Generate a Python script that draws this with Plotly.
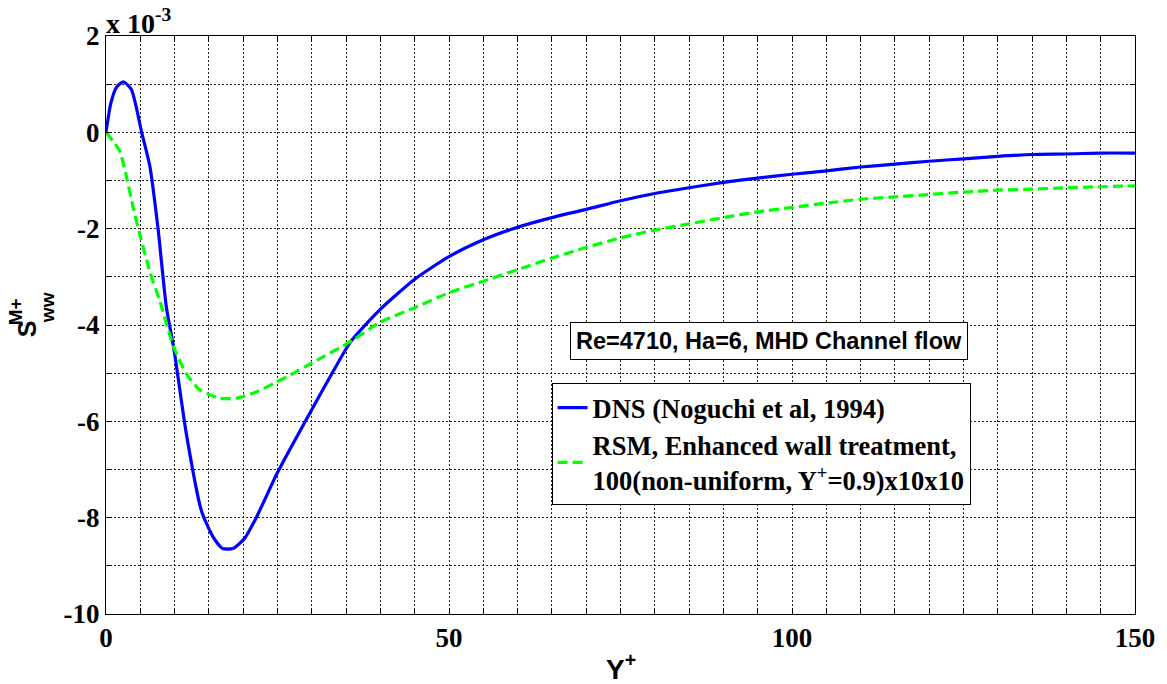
import plotly.graph_objects as go

# ---- data (values in units of 1e-3) ----
dns_x = [0, 0.7, 1.5, 2.5, 3.7, 5.2, 6.4, 7.6, 8.8, 9.9, 11.7, 13.9, 15.6, 17.0, 18.5,
         20.2, 21.9, 24.8, 26.7, 29.2, 33.0, 35.7, 39.8, 45, 50, 55, 60, 65, 70, 75, 80,
         85, 90, 95, 100, 105, 110, 115, 120, 125, 130, 135, 140, 145, 150]
dns_y = [0, 0.60, 0.93, 1.05, 0.89, 0.0, -0.71, -2.02, -3.63, -4.50, -6.25, -7.85, -8.40,
         -8.64, -8.64, -8.43, -8.0, -7.12, -6.61, -5.96, -4.99, -4.34, -3.70, -3.05, -2.58,
         -2.23, -1.97, -1.77, -1.60, -1.42, -1.27, -1.15, -1.04, -0.95, -0.87, -0.80,
         -0.72, -0.66, -0.60, -0.55, -0.50, -0.46, -0.45, -0.43, -0.43]

rsm_x = [0, 1.0, 2.0, 3.0, 4.0, 4.9, 6.4, 7.8, 9.8, 11.7, 13.6, 16.5, 19.0, 21.9, 24.8,
         26.7, 30, 35.7, 40, 45, 50, 55, 60, 65, 70, 75, 80, 85, 90, 95, 100, 105, 110,
         115, 120, 125, 130, 135, 140, 145, 150]
rsm_y = [0, -0.18, -0.39, -0.93, -1.59, -2.10, -2.90, -3.48, -4.43, -5.01, -5.34, -5.52,
         -5.52, -5.39, -5.19, -5.05, -4.79, -4.34, -3.94, -3.64, -3.33, -3.09, -2.85,
         -2.61, -2.39, -2.19, -2.03, -1.90, -1.77, -1.65, -1.56, -1.47, -1.39, -1.34,
         -1.29, -1.24, -1.20, -1.18, -1.15, -1.13, -1.11]

y_tick_vals = [-10, -8, -6, -4, -2, 0, 2]
y_tick_text = ["-10", "-8", "-6", "-4", "-2", "0", "2"]
x_tick_vals = [0, 50, 100, 150]
x_tick_text = ["0", "50", "100", "150"]

dns_name = "DNS (Noguchi et al, 1994)"
rsm_name = "RSM, Enhanced wall treatment,<br>100(non-uniform, Y<sup>+</sup>=0.9)x10x10"
note_text = "Re=4710, Ha=6, MHD Channel flow"

x_range = [0, 150]
y_range = [-10, 2]

serif = "Liberation Serif"
sans = "Liberation Sans"

fig = go.Figure()
fig.add_trace(go.Scatter(x=dns_x, y=dns_y, mode="lines", name=dns_name,
                         line=dict(color="#0000FF", width=3.2, shape="spline", smoothing=0.6)))
fig.add_trace(go.Scatter(x=rsm_x, y=rsm_y, mode="lines", name=rsm_name,
                         line=dict(color="#00FF00", width=3.2, dash="10px,5px",
                                   shape="spline", smoothing=0.6)))

grid_common = dict(gridcolor="#222222", gridwidth=1, griddash="2px,2px")
tick_font = dict(family=serif, size=27, color="black", weight="bold")

fig.update_xaxes(range=x_range, tickvals=x_tick_vals, ticktext=x_tick_text,
                 showline=True, linecolor="black",
                 linewidth=1, mirror="ticks", ticks="inside", ticklen=6, tickcolor="black",
                 showgrid=True, **grid_common, zeroline=False, tickfont=tick_font,
                 minor=dict(dtick=5, tick0=0, ticks="inside", ticklen=5, tickcolor="black",
                            showgrid=True, **grid_common))
fig.update_yaxes(range=y_range, tickvals=y_tick_vals, ticktext=y_tick_text,
                 showline=True, linecolor="black",
                 linewidth=1, mirror="ticks", ticks="inside", ticklen=6, tickcolor="black",
                 showgrid=True, **grid_common, zeroline=False, tickfont=tick_font,
                 minor=dict(dtick=1, tick0=0, ticks="inside", ticklen=5, tickcolor="black",
                            showgrid=True, **grid_common))

annotations = [
    dict(x=96.6, y=-4.33, xref="x", yref="y", text=note_text, showarrow=False,
         font=dict(family=sans, size=23.5, color="black", weight="bold"),
         bgcolor="white", bordercolor="black", borderwidth=1, borderpad=5),
    dict(x=0, y=1, xref="paper", yref="paper", xanchor="left", yanchor="bottom",
         text="x 10<sup>-3</sup>", showarrow=False, yshift=-5, xshift=-2,
         font=dict(family=serif, size=28, color="black", weight="bold")),
    dict(x=0.5, y=-0.0917, xref="paper", yref="paper", xanchor="center", yanchor="middle",
         text="Y<sup>+</sup>", showarrow=False,
         font=dict(family=sans, size=28, color="black", weight="bold")),
    dict(x=-0.0765, y=0.4930, xref="paper", yref="paper", xanchor="center", yanchor="middle",
         text="S", textangle=-90, showarrow=False,
         font=dict(family=sans, size=25, color="black", weight="bold")),
    dict(x=-0.0872, y=0.5225, xref="paper", yref="paper", xanchor="center", yanchor="middle",
         text="M+", textangle=-90, showarrow=False,
         font=dict(family=sans, size=19, color="black", weight="bold")),
    dict(x=-0.0572, y=0.5294, xref="paper", yref="paper", xanchor="center", yanchor="middle",
         text="ww", textangle=-90, showarrow=False,
         font=dict(family=sans, size=19, color="black", weight="bold")),
]

fig.update_layout(
    width=1167, height=684,
    margin=dict(l=106, r=29, t=36, b=70),
    paper_bgcolor="white", plot_bgcolor="white",
    showlegend=True,
    legend=dict(x=0.433, y=0.3997, xanchor="left", yanchor="top",
                bgcolor="white", bordercolor="black", borderwidth=1,
                font=dict(family=serif, size=26.5, color="black", weight="bold"),
                tracegroupgap=0),
    annotations=annotations,
)

fig.write_html("out.html")
